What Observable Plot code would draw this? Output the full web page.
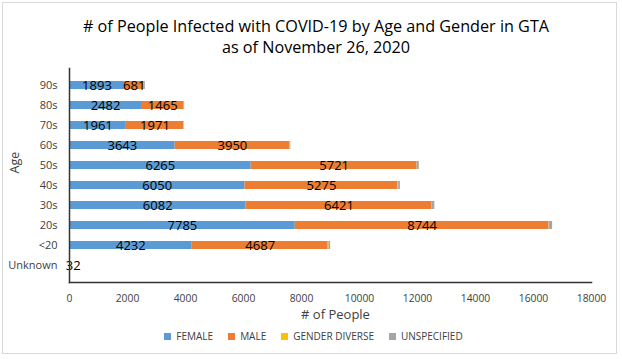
<!DOCTYPE html>
<html>
<head>
<meta charset="utf-8">
<script src="https://cdn.jsdelivr.net/npm/d3@7"></script>
<script src="https://cdn.jsdelivr.net/npm/@observablehq/plot@0.6"></script>
<style>
  html, body { margin: 0; padding: 0; background: #fff; }
  #wrap { position: relative; width: 622px; height: 359px; overflow: hidden; font-family: "Open Sans", sans-serif; }
  #border { position: absolute; left: 2px; top: 2px; width: 615px; height: 352px; border: 1px solid #d9d9d9; box-sizing: border-box; }
  #title { position: absolute; left: 0; top: 16px; width: 632px; text-align: center; font-size: 16.2px; line-height: 21px; color: #000; }
  #chart { position: absolute; left: 0; top: 0; }
  #legend { position: absolute; left: 0; top: 329px; width: 622px; display: flex; justify-content: center; padding-left: 5px; box-sizing: border-box; }
  #legend span { margin-right: 15px !important; }
  #legend span:last-child { margin-right: 0 !important; }
</style>
</head>
<body>
<div id="wrap">
  <div id="border"></div>
  <div id="chart"></div>
  <div id="title"># of People Infected with COVID-19 by Age and Gender in GTA<br>as of November 26, 2020</div>
  <div id="legend"></div>
</div>
<script>
const ages = ["90s", "80s", "70s", "60s", "50s", "40s", "30s", "20s", "<20", "Unknown"];
const genders = ["FEMALE", "MALE", "GENDER DIVERSE", "UNSPECIFIED"];
const colors = ["#5B9BD5", "#ED7D31", "#FFC000", "#A5A5A5"];
const female = [1893, 2482, 1961, 3643, 6265, 6050, 6082, 7785, 4232, 3];
const male = [681, 1465, 1971, 3950, 5721, 5275, 6421, 8744, 4687, 2];
const genderDiverse = [0, 0, 0, 15, 5, 25, 5, 10, 30, 0];
const unspecified = [40, 25, 20, 25, 70, 60, 90, 120, 55, 0];
const xTicks = [0, 2000, 4000, 6000, 8000, 10000, 12000, 14000, 16000, 18000];
const xTitle = "# of People";
const yTitle = "Age";

const series = [female, male, genderDiverse, unspecified];
const data = [];
ages.forEach((a, i) => {
  genders.forEach((g, j) => data.push({age: a, gender: g, value: series[j][i]}));
});
const labelled = d => (d.gender === "FEMALE" || d.gender === "MALE") && d.age !== "Unknown";
const font = "Open Sans, sans-serif";

const chart = Plot.plot({
  width: 622,
  height: 359,
  marginLeft: 69,
  marginRight: 31,
  marginTop: 68,
  marginBottom: 77,
  style: {fontFamily: font, background: "transparent", overflow: "visible"},
  x: {domain: [0, 18000]},
  y: {domain: ages, padding: 0.58},
  color: {domain: genders, range: colors},
  marks: [
    Plot.barX(data, Plot.stackX({x: "value", y: "age", fill: "gender", z: "gender", order: genders})),
    Plot.textX(data, Plot.stackX({
      x: "value", y: "age", z: "gender", order: genders,
      text: d => labelled(d) ? String(d.value) : "",
      fill: "#000", fontSize: 13, fontFamily: font
    })),
    Plot.textX(data, Plot.stackX({
      filter: d => d.age === "Unknown" && d.gender === "FEMALE",
      x: "value", y: "age", text: d => String(d.value), dx: 0,
      fill: "#000", fontSize: 13, fontFamily: font
    })),
    Plot.textX(data, Plot.stackX({
      filter: d => d.age === "Unknown" && d.gender === "MALE",
      x: "value", y: "age", text: d => String(d.value), dx: 7.5,
      fill: "#000", fontSize: 13, fontFamily: font
    })),
    Plot.axisX({ticks: xTicks, tickFormat: d => String(d), tickSize: 0, tickPadding: 12,
      fontSize: 10.3, color: "#404040", label: null}),
    Plot.axisY({tickSize: 0, tickPadding: 12, fontSize: 11, color: "#404040", label: null}),
    Plot.text([xTitle], {frameAnchor: "bottom", dy: 36, dx: 5, fontSize: 13, fill: "#404040", fontFamily: font}),
    Plot.text([yTitle], {frameAnchor: "left", rotate: -90, dx: -55, dy: -2, fontSize: 12.5, fill: "#404040", fontFamily: font}),
    Plot.frame({anchor: "bottom", stroke: "#333", strokeWidth: 1.5}),
    Plot.frame({anchor: "left", stroke: "#333", strokeWidth: 1.5})
  ]
});
document.getElementById("chart").appendChild(chart);

const leg = Plot.legend({
  color: {domain: genders, range: colors},
  legend: "swatches",
  swatchSize: 7,
  style: {fontFamily: font, fontSize: "10px", color: "#404040", minHeight: "0px", margin: "0"}
});
document.getElementById("legend").appendChild(leg);
</script>
</body>
</html>
